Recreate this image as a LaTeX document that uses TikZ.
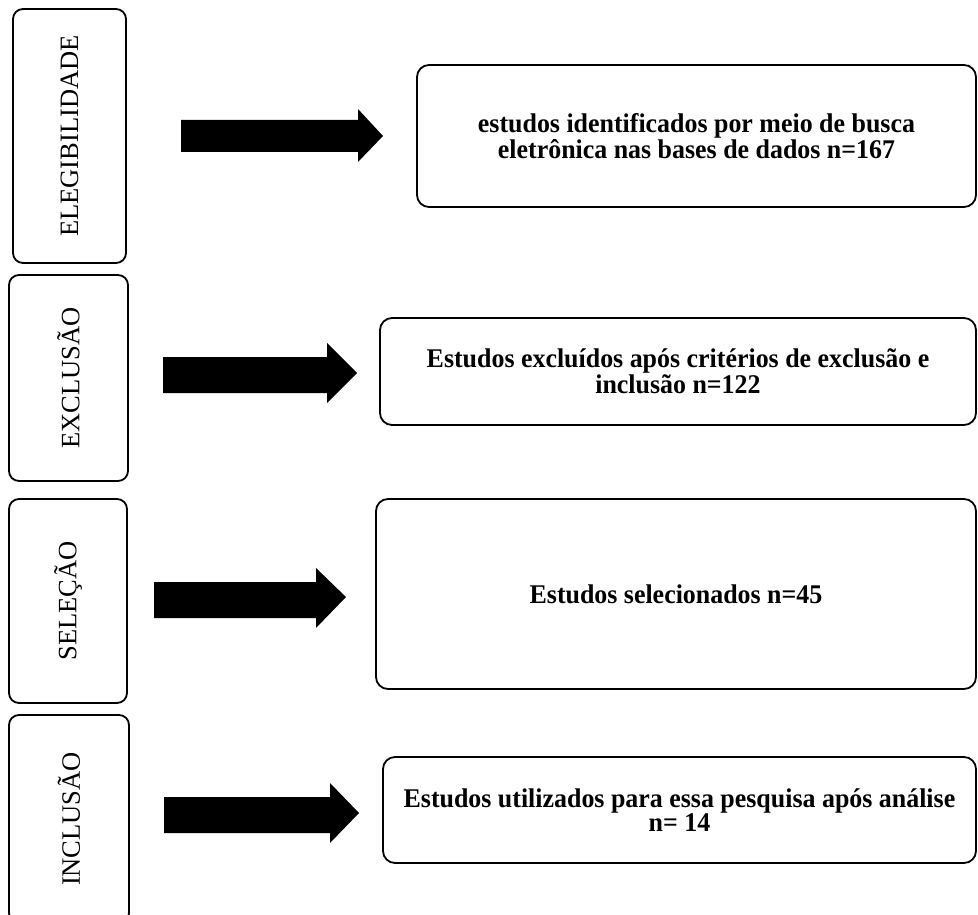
\documentclass[tikz,border=0pt]{standalone}
\usepackage{fontspec}
\setmainfont{Liberation Serif}
\newfontfamily\resfont[FakeStretch=0.96]{Liberation Serif}
\begin{document}
\begin{tikzpicture}[x=1pt,y=-1pt,
  stagebox/.style={draw,line width=1.8pt,rounded corners=10pt,inner sep=0pt},
  stagelabel/.style={rotate=90,font=\fontsize{26.5}{30}\selectfont,inner sep=0pt},
  resbox/.style={draw,line width=1.8pt,rounded corners=12pt,inner sep=0pt,align=center,
    font=\resfont\fontsize{27}{23.5}\selectfont\bfseries},
  blockarrow/.style={fill=black}]
\useasboundingbox (0,0) rectangle (978,915);
\begin{scope}
\clip (0,0) rectangle (978,915);
% left stage boxes
\node[stagebox,minimum width=113pt,minimum height=254pt] (e) at (69.5,136) {};
\node[stagelabel] (el) at (e) {ELEGIBILIDADE};
\node[stagebox,minimum width=119pt,minimum height=206pt] (x) at (68.5,378) {};
\node[stagelabel] (xl) at (x) {EXCLUSÃO};
\node[stagebox,minimum width=118pt,minimum height=204pt] (s) at (68,601) {};
\node[stagelabel] (sl) at (s) {SELEÇÃO};
\node[stagebox,minimum width=120pt,minimum height=208pt] (i) at (69,819) {};
\node[stagelabel] (il) at (i) {INCLUSÃO};
% right result boxes
\node[resbox,minimum width=559pt,minimum height=142pt] (r1) at (696.5,136)
  {estudos identificados por meio de busca\\eletrônica nas bases de dados n=167};
\node[resbox,minimum width=596pt,minimum height=107pt] (r2) at (678,371.5)
  {Estudos excluídos após critérios de exclusão e\\inclusão n=122};
\node[resbox,minimum width=600pt,minimum height=190pt] (r3) at (676,594)
  {Estudos selecionados n=45};
\node[resbox,minimum width=593pt,minimum height=106pt] (r4) at (679.5,810)
  {Estudos utilizados para essa pesquisa após análise\\n= 14};
% block arrows
\fill[blockarrow] (181,120) -- (358,120) -- (358,109) -- (383,136) -- (358,162) -- (358,152) -- (181,152) -- cycle;
\fill[blockarrow] (163,357) -- (327,357) -- (327,343) -- (357,373) -- (327,403) -- (327,393) -- (163,393) -- cycle;
\fill[blockarrow] (154,582) -- (316,582) -- (316,568) -- (346,597) -- (316,628) -- (316,618) -- (154,618) -- cycle;
\fill[blockarrow] (164,797) -- (330,797) -- (330,783) -- (359,813) -- (330,843) -- (330,833) -- (164,833) -- cycle;
\end{scope}
\end{tikzpicture}
\end{document}
